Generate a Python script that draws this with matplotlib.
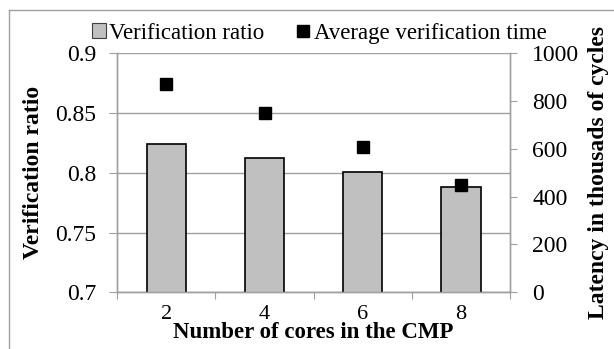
import numpy as np
import matplotlib
matplotlib.use('Agg')
import matplotlib.pyplot as plt
from matplotlib.lines import Line2D
from matplotlib.patches import Patch

# Data
cores = ['2', '4', '6', '8']
verif_ratio = [0.824, 0.812, 0.801, 0.788]
verif_time = [870, 750, 608, 449]   # thousands of cycles

plt.rcParams['font.family'] = ['Liberation Serif', 'DejaVu Serif']
grey = '#a0a0a0'

fig = plt.figure(figsize=(6.14, 3.49), dpi=100)
ax = fig.add_axes([0.191, 0.1625, 0.6396, 0.6848])
ax2 = ax.twinx()

x = np.arange(len(cores))

# Bars on the left axis
ax.bar(x, verif_ratio, width=0.4, color='#c0c0c0', edgecolor='black', linewidth=1.2, zorder=3)
ax.set_ylim(0.7, 0.9)
ax.set_yticks(np.arange(0.7, 0.901, 0.05))
ax.set_yticklabels(['0.7', '0.75', '0.8', '0.85', '0.9'])
ax.set_xlim(-0.5, len(cores) - 0.5)
ax.grid(axis='y', color=grey, linewidth=1, zorder=0)
ax.set_axisbelow(True)

# category boundary ticks, labels at centres
ax.set_xticks(np.arange(-0.5, len(cores), 1.0))
ax.set_xticklabels([])
ax.set_xticks(x, minor=True)
ax.set_xticklabels(cores, minor=True)
ax.tick_params(axis='x', which='major', length=5, color=grey, direction='out')
ax.tick_params(axis='x', which='minor', length=0, pad=9, labelsize=16)
ax.tick_params(axis='y', length=6, color=grey, pad=9, labelsize=17)

# Markers on the right axis
ax2.plot(x, verif_time, 's', color='black', markersize=8.5, zorder=4)
ax2.set_ylim(0, 1000)
ax2.set_yticks(np.arange(0, 1001, 200))
ax2.tick_params(axis='y', length=5, color=grey, pad=11, labelsize=17)

for a in (ax, ax2):
    for s in a.spines.values():
        s.set_color(grey)
        s.set_linewidth(1)
    a.spines['top'].set_visible(False)

ax.set_xlabel('Number of cores in the CMP', fontsize=16.5, fontweight='bold', labelpad=-1)
ax.set_ylabel('Verification ratio', fontsize=17, fontweight='bold', labelpad=8)
ax2.set_ylabel('Latency in thousads of cycles', fontsize=17, fontweight='bold', labelpad=6)

# Legend across the top
handles = [Patch(facecolor='#c0c0c0', edgecolor='#404040', linewidth=0.8),
           Line2D([], [], marker='s', color='black', linestyle='none', markersize=8)]
fig.legend(handles, ['Verification ratio', 'Average verification time'],
           loc='center', bbox_to_anchor=(0.52, 0.905), ncol=2, frameon=False,
           fontsize=16.5, handlelength=0.6, handleheight=0.6, handletextpad=0.15,
           columnspacing=1.4, borderaxespad=0)

# Chart area border (clipped at right and bottom)
fig.add_artist(Line2D([9 / 614, 9 / 614], [0, 1 - 9.5 / 349], color=grey, linewidth=1))
fig.add_artist(Line2D([9 / 614, 1], [1 - 9.5 / 349, 1 - 9.5 / 349], color=grey, linewidth=1))

fig.savefig('out.png', dpi=100)
